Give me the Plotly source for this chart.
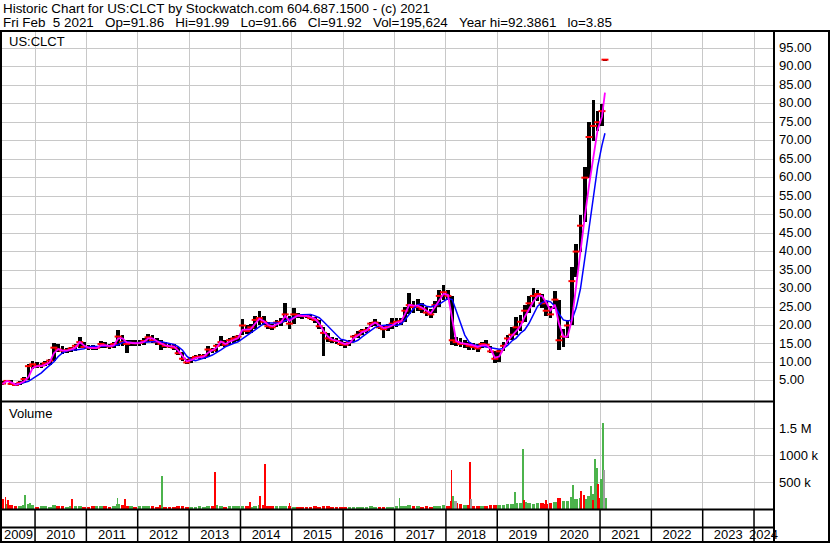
import datetime as dt
import plotly.graph_objects as go

# ---------------- data ----------------
# one sample per month (mid-month), last sample = Feb 5 2021
months = [f"{y}-{m:02d}-15" for y in range(2009, 2021) for m in range(1, 13)
          if (y, m) >= (2009, 5)] + ["2021-01-15", "2021-02-05"]

high = [
    5.0, 5.3, 5.2, 4.5, 4.9, 6.0, 9.5, 10.3,
    10.0, 9.8, 10.3, 11.0, 15.2, 15.0, 14.5, 14.0, 14.3, 15.0, 17.0, 15.5,
    14.8, 14.6, 14.5, 15.7, 15.5, 15.0, 15.5, 18.8, 17.5, 16.0, 16.0, 16.0,
    16.0, 16.5, 17.6, 17.5, 16.5, 16.0, 15.5, 15.0, 15.0, 14.3, 12.8, 11.0,
    11.5, 12.0, 12.2, 12.3, 14.5, 14.0, 15.0, 17.1, 16.0, 16.5, 17.2, 17.5,
    21.7, 20.0, 20.5, 22.5, 23.9, 22.5, 21.0, 20.5, 21.5, 22.0, 26.2, 22.5,
    24.8, 23.5, 23.2, 23.2, 23.0, 22.2, 21.5, 19.5, 18.0, 17.0, 16.5, 16.0,
    15.5, 16.0, 17.5, 18.5, 19.0, 19.5, 21.0, 21.7, 21.0, 20.0, 20.5, 22.0,
    22.0, 22.0, 25.0, 28.8, 26.5, 27.1, 26.0, 25.0, 24.5, 26.5, 29.5, 31.0,
    29.5, 28.0, 17.0, 16.5, 16.0, 15.5, 15.2, 15.0, 15.5, 16.1, 14.5, 13.0,
    13.5, 15.5, 17.5, 19.7, 22.4, 22.9, 25.6, 28.0, 30.1, 29.7, 28.5, 26.5,
    25.2, 29.2, 27.0, 19.0, 21.5, 35.7, 42.0, 50.0, 63.0, 75.0, 81.0, 78.0,
    80.0, 91.99,
]
low = [
    3.85, 4.6, 4.0, 3.7, 4.0, 4.5, 5.2, 8.3,
    8.5, 8.4, 9.0, 9.3, 10.5, 12.8, 12.3, 12.5, 12.8, 13.0, 13.8, 13.8,
    13.4, 13.3, 13.3, 13.8, 14.0, 13.6, 13.8, 14.5, 14.5, 12.5, 14.5, 14.5,
    14.5, 14.8, 15.5, 15.3, 14.8, 13.5, 14.0, 13.8, 13.5, 12.0, 10.5, 9.5,
    9.8, 10.8, 11.0, 11.0, 11.5, 12.5, 12.8, 14.5, 14.2, 14.8, 15.2, 15.8,
    17.5, 17.8, 18.0, 19.0, 20.0, 20.0, 19.0, 18.8, 19.5, 19.8, 21.0, 19.0,
    20.5, 22.0, 21.8, 22.0, 21.5, 20.8, 19.0, 11.7, 15.5, 15.2, 15.0, 14.5,
    14.0, 14.5, 15.5, 16.5, 17.5, 18.0, 19.5, 19.8, 19.0, 16.7, 18.5, 19.0,
    19.5, 20.0, 21.0, 23.0, 23.5, 24.0, 23.5, 22.5, 22.0, 23.5, 25.0, 27.0,
    27.0, 14.7, 14.5, 14.3, 14.0, 13.5, 13.5, 12.9, 14.0, 14.2, 12.5, 9.8,
    10.0, 13.0, 15.0, 16.0, 17.5, 18.5, 21.0, 23.5, 25.0, 26.5, 24.7, 22.5,
    22.0, 24.5, 13.4, 14.3, 16.5, 20.0, 33.0, 40.0, 48.0, 60.0, 70.0, 72.5,
    74.0, 91.66,
]
close = [
    4.3, 5.0, 4.2, 3.9, 4.5, 5.5, 9.0, 9.5,
    9.0, 9.2, 9.8, 10.5, 14.0, 13.5, 13.2, 13.3, 13.8, 14.5, 15.5, 14.2,
    14.0, 13.9, 14.0, 15.0, 14.5, 14.3, 15.0, 17.0, 15.5, 15.0, 15.3, 15.2,
    15.3, 15.8, 16.8, 16.0, 15.5, 15.0, 14.5, 14.3, 14.0, 12.5, 11.0, 10.0,
    11.0, 11.5, 11.6, 11.8, 13.5, 13.3, 14.5, 15.5, 14.8, 16.0, 16.5, 17.0,
    20.0, 18.5, 19.5, 21.5, 22.0, 21.0, 19.8, 19.5, 20.8, 21.0, 23.0, 20.5,
    23.0, 22.8, 22.6, 22.5, 22.0, 21.5, 19.8, 18.0, 16.5, 16.0, 15.8, 15.0,
    14.8, 15.5, 17.0, 17.5, 18.5, 18.8, 20.5, 20.8, 19.5, 19.0, 19.8, 20.5,
    21.0, 21.2, 24.0, 25.5, 25.0, 25.0, 24.5, 23.5, 23.0, 25.5, 28.0, 29.0,
    28.0, 16.0, 15.5, 15.0, 15.0, 14.5, 14.2, 13.8, 15.0, 14.8, 13.0, 11.0,
    13.0, 14.5, 16.5, 17.5, 19.5, 21.0, 24.0, 26.0, 28.0, 28.5, 26.0, 24.0,
    23.0, 27.0, 16.0, 17.0, 20.0, 32.0, 40.0, 47.0, 60.0, 71.0, 74.0, 75.0,
    78.0, 91.92,
]
ma_fast = [
    4.2, 5.0, 4.6, 4.0, 4.3, 4.9, 6.0, 8.5,
    9.0, 9.0, 9.4, 10.0, 12.5, 13.6, 13.2, 13.2, 13.5, 14.0, 15.5, 14.6,
    14.0, 13.9, 13.9, 14.6, 14.7, 14.4, 14.6, 16.5, 16.5, 15.4, 15.2, 15.2,
    15.3, 15.6, 16.5, 16.5, 15.8, 15.2, 14.6, 14.4, 14.3, 13.2, 11.6, 10.3,
    10.6, 11.2, 11.4, 11.6, 12.6, 13.2, 14.0, 15.7, 15.0, 15.6, 16.2, 16.6,
    18.8, 18.8, 19.0, 20.5, 21.8, 21.2, 20.2, 19.8, 20.4, 20.8, 22.6, 21.2,
    22.0, 22.7, 22.6, 22.6, 22.3, 21.8, 20.5, 18.5, 17.0, 16.2, 15.9, 15.4,
    15.0, 15.2, 16.5, 17.3, 18.2, 18.6, 20.0, 20.8, 20.0, 19.3, 19.5, 20.0,
    20.8, 21.0, 23.0, 25.6, 25.4, 25.4, 24.8, 24.0, 23.3, 25.0, 26.9, 28.6,
    28.3, 22.0, 15.8, 15.3, 15.1, 14.9, 14.6, 14.2, 14.6, 14.7, 13.6, 11.3,
    11.6, 13.8, 15.8, 17.2, 18.5, 19.8, 22.3, 24.3, 26.5, 28.0, 28.0, 26.2,
    24.1, 25.6, 20.5, 17.0, 17.0, 21.5, 31.0, 40.0, 49.5, 58.0, 66.0, 73.0,
    76.5, 83.0,
]
ma_slow = [
    None, None, None, 3.9, 4.2, 4.6, 4.9, 5.6,
    6.4, 7.2, 8.2, 9.1, 10.2, 11.6, 12.6, 13.1, 13.4, 13.4, 13.5, 13.7,
    14.2, 14.4, 14.3, 14.3, 14.4, 14.4, 14.5, 14.8, 15.4, 15.6, 15.4, 15.2,
    15.4, 15.5, 15.7, 15.8, 15.7, 15.6, 15.4, 15.1, 14.9, 14.3, 13.3, 11.7,
    10.8, 10.5, 10.8, 11.2, 11.5, 12.0, 12.6, 13.4, 14.2, 14.8, 15.2, 15.6,
    16.5, 17.4, 18.0, 18.8, 19.6, 20.5, 20.7, 20.7, 20.6, 20.7, 21.3, 21.8,
    22.3, 22.7, 22.9, 23.0, 23.0, 22.6, 22.1, 21.0, 19.8, 18.5, 17.3, 16.3,
    16.0, 15.6, 15.5, 16.0, 16.9, 17.8, 18.5, 19.5, 19.9, 20.0, 20.1, 20.2,
    20.0, 20.4, 21.5, 23.0, 24.5, 25.6, 25.8, 25.2, 25.0, 25.4, 25.8, 26.5,
    27.3, 27.0, 23.8, 20.5, 17.4, 15.5, 14.8, 14.6, 14.4, 14.3, 14.1, 13.8,
    13.6, 13.8, 14.6, 15.8, 16.6, 17.9, 18.8, 20.6, 22.9, 25.2, 26.2, 26.7,
    26.4, 25.2, 23.2, 21.5, 21.2, 21.5, 24.7, 30.0, 38.2, 46.5, 55.1, 63.0,
    68.8, 72.0,
]
# typical daily volume level for each month (shares)
volume = [v * 1000 for v in [
    120, 90, 70, 60, 55, 80, 100, 70,
    40, 50, 55, 45, 80, 60, 50, 45, 55, 60, 50, 45,
    45, 50, 60, 55, 50, 45, 60, 90, 70, 55, 50, 45,
    50, 55, 60, 50, 45, 80, 45, 40, 45, 50, 55, 45,
    40, 45, 50, 45, 55, 60, 70, 50, 45, 50, 55, 60,
    55, 50, 45, 60, 80, 70, 60, 50, 55, 60, 65, 50,
    45, 40, 45, 40, 45, 50, 45, 60, 50, 40, 45, 40,
    35, 40, 45, 40, 45, 40, 50, 45, 40, 45, 40, 45,
    60, 50, 60, 70, 55, 50, 45, 50, 45, 55, 60, 70,
    60, 150, 110, 90, 70, 80, 60, 55, 50, 60, 70, 80,
    70, 80, 90, 100, 120, 110, 130, 110, 100, 110, 120, 100,
    110, 130, 200, 150, 140, 220, 180, 200, 190, 250, 280, 300,
    350, 200,
]]
# single-day volume spikes
spike_dates = ["2009-05-20", "2009-06-05", "2009-06-25", "2009-10-20", "2009-11-25",
               "2010-09-20", "2011-08-10", "2011-10-05", "2012-06-20", "2013-07-01",
               "2014-03-10", "2014-05-20", "2014-06-25", "2014-12-15", "2017-02-05",
               "2018-02-10", "2018-02-20", "2018-03-05", "2018-03-15", "2018-06-20",
               "2018-06-28", "2019-05-10", "2019-07-01", "2019-07-10", "2019-12-15",
               "2020-06-20", "2020-08-21", "2020-09-10", "2020-10-30", "2020-11-10",
               "2020-11-28", "2020-12-10", "2020-12-15", "2020-12-28", "2021-01-05",
               "2021-01-20", "2021-01-30"]
spike_vol = [v * 1000 for v in [
    180, 225, 165, 263, 115,
    190, 210, 190, 615, 690,
    135, 250, 833, 115, 210,
    725, 244, 150, 150, 865,
    190, 320, 1110, 160, 170,
    455, 330, 260, 435, 160,
    935, 755, 470, 200, 550,
    1600, 725]]
spike_dir = ["down", "down", "down", "up", "up",
             "down", "up", "down", "up", "down",
             "down", "down", "down", "down", "up",
             "down", "up", "flat", "flat", "down",
             "flat", "up", "up", "down", "down",
             "up", "down", "down", "up", "down",
             "up", "up", "down", "down", "up",
             "up", "flat"]

years = list(range(2009, 2025))
price_ticks = list(range(5, 100, 5))
vol_ticks = [500000, 1000000, 1500000]
vol_tick_text = ["500 k", "1000 k", "1.5 M"]

assert len(months) == len(high) == len(low) == len(close) == len(ma_fast) == len(ma_slow) == len(volume)
assert len(spike_dates) == len(spike_vol) == len(spike_dir)

# ---------------- styling ----------------
W, H = 830, 543
L, R, T, B = 2, 57, 32, 34
PW, PH = W - L - R, H - T - B
FONT = "Liberation Sans, Arial, sans-serif"
GRID = "#c8c8c8"
GREEN, RED, GRAY = "#4cb34c", "#ff0000", "#a0a0a0"
X_RANGE = ["2009-05-11", "2024-05-15"]
DAY = 86400000


def px_x(p):
    return (p - L) / PW


def px_y(q):
    return (H - B - q) / PH


# ---------------- traces ----------------
fig = go.Figure()
fig.add_trace(go.Bar(x=months, y=[h - l for h, l in zip(high, low)], base=low,
                     width=26 * DAY, marker=dict(color="black", line=dict(width=0)),
                     xaxis="x", yaxis="y"))
fig.add_trace(go.Scatter(x=months, y=close, mode="markers",
                         marker=dict(symbol="line-ew", size=5, line=dict(color=RED, width=2)),
                         xaxis="x", yaxis="y"))
fig.add_trace(go.Scatter(x=months, y=ma_slow, mode="lines",
                         line=dict(color="#0000ff", width=1.5), xaxis="x", yaxis="y"))
fig.add_trace(go.Scatter(x=months, y=ma_fast, mode="lines",
                         line=dict(color="#ff00ff", width=1.8), xaxis="x", yaxis="y"))

vol_colors = [GREEN] + [GREEN if c >= p else RED for p, c in zip(close[:-1], close[1:])]
fig.add_trace(go.Bar(x=months, y=volume, width=26 * DAY,
                     marker=dict(color=vol_colors, line=dict(width=0)), xaxis="x2", yaxis="y2"))
dir_color = {"up": GREEN, "down": RED, "flat": GRAY}
fig.add_trace(go.Bar(x=spike_dates, y=spike_vol, width=6 * DAY,
                     marker=dict(color=[dir_color[d] for d in spike_dir], line=dict(width=0)),
                     xaxis="x2", yaxis="y2"))

# ---------------- axes ----------------
bounds = [f"{y}-01-01" for y in years[1:]]
r0 = dt.date.fromisoformat(X_RANGE[0])
r1 = dt.date.fromisoformat(X_RANGE[1])
mids = []
for y in years:
    a = max(dt.date(y, 1, 1), r0)
    b = min(dt.date(y + 1, 1, 1), r1)
    mids.append((a + (b - a) / 2).isoformat())

tickfont = dict(family=FONT, size=13, color="black")
fig.update_layout(
    width=W, height=H, margin=dict(l=L, r=R, t=T, b=B),
    paper_bgcolor="white", plot_bgcolor="white",
    showlegend=False, hovermode=False, barmode="overlay", bargap=0,
    font=dict(family=FONT, size=13, color="black"),
    xaxis=dict(type="date", range=X_RANGE, domain=[0, 1], anchor="y",
               tickmode="array", tickvals=bounds, showticklabels=False, ticks="",
               showgrid=True, gridcolor=GRID, gridwidth=1, zeroline=False, showline=False),
    yaxis=dict(domain=[px_y(400), 1], range=[-0.16, 99.41], side="right", anchor="x",
               tickmode="array", tickvals=price_ticks, ticktext=[f"{v:.2f}" for v in price_ticks],
               ticks="", ticklabelstandoff=5, ticklabelshift=-1, tickfont=tickfont,
               showgrid=True, gridcolor=GRID, gridwidth=1, zeroline=False, showline=False),
    xaxis2=dict(type="date", range=X_RANGE, domain=[0, 1], anchor="y2", matches="x",
                tickmode="array", tickvals=mids, ticktext=[str(y) for y in years],
                ticks="", ticklabelstandoff=16, tickfont=tickfont, showgrid=False,
                minor=dict(tickmode="array", tickvals=bounds, showgrid=True, gridcolor=GRID,
                           gridwidth=1, ticks=""),
                zeroline=False, showline=False),
    yaxis2=dict(domain=[0, px_y(403)], range=[0, 1.97e6], side="right", anchor="x2",
                tickmode="array", tickvals=vol_ticks, ticktext=vol_tick_text,
                ticks="", ticklabelstandoff=5, tickfont=tickfont,
                showgrid=True, gridcolor=GRID, gridwidth=1, zeroline=False, showline=False),
)

# ---------------- frame lines ----------------
shapes = []


def hline(q, p0, p1, w=2):
    shapes.append(dict(type="line", xref="paper", yref="paper", x0=px_x(p0), x1=px_x(p1),
                       y0=px_y(q), y1=px_y(q), line=dict(color="black", width=w)))


def vline(p, q0, q1, w=2):
    shapes.append(dict(type="line", xref="paper", yref="paper", x0=px_x(p), x1=px_x(p),
                       y0=px_y(q0), y1=px_y(q1), line=dict(color="black", width=w)))


hline(31, 0, 830)
hline(401.5, 0, 774)
hline(509.5, 0, 774)
hline(527.5, 0, 774)
hline(542, 0, 830)
vline(1, 31, 543)
vline(774, 31, 543)
vline(829, 31, 543)
for b in bounds:
    shapes.append(dict(type="line", xref="x", yref="paper", x0=b, x1=b,
                       y0=px_y(510), y1=px_y(542), line=dict(color="black", width=1.5)))
fig.update_layout(shapes=shapes)

# ---------------- texts ----------------
NB = "\u00a0"
line1 = "Historic Chart for US:CLCT by Stockwatch.com 604.687.1500 - (c) 2021"
line2 = (f"Fri Feb{NB}{NB}5 2021{NB*3}Op=91.86{NB*3}Hi=91.99{NB*3}Lo=91.66{NB*3}"
         f"Cl=91.92{NB*3}Vol=195,624{NB*3}Year hi=92.3861{NB*3}lo=3.85")
ann = []
for txt, q in [(line1, 8), (line2, 22)]:
    ann.append(dict(text=txt, xref="paper", yref="paper", x=px_x(1), y=px_y(q),
                    xanchor="left", yanchor="middle", showarrow=False,
                    font=dict(family=FONT, size=13.4, color="black")))
for txt, q in [("US:CLCT", 41), ("Volume", 413)]:
    ann.append(dict(text=txt, xref="paper", yref="paper", x=px_x(7), y=px_y(q),
                    xanchor="left", yanchor="middle", showarrow=False,
                    font=dict(family=FONT, size=13, color="black")))
fig.update_layout(annotations=ann)

fig.write_html("out.html", config={"displayModeBar": False},
               post_script="document.body.style.margin='0';")
